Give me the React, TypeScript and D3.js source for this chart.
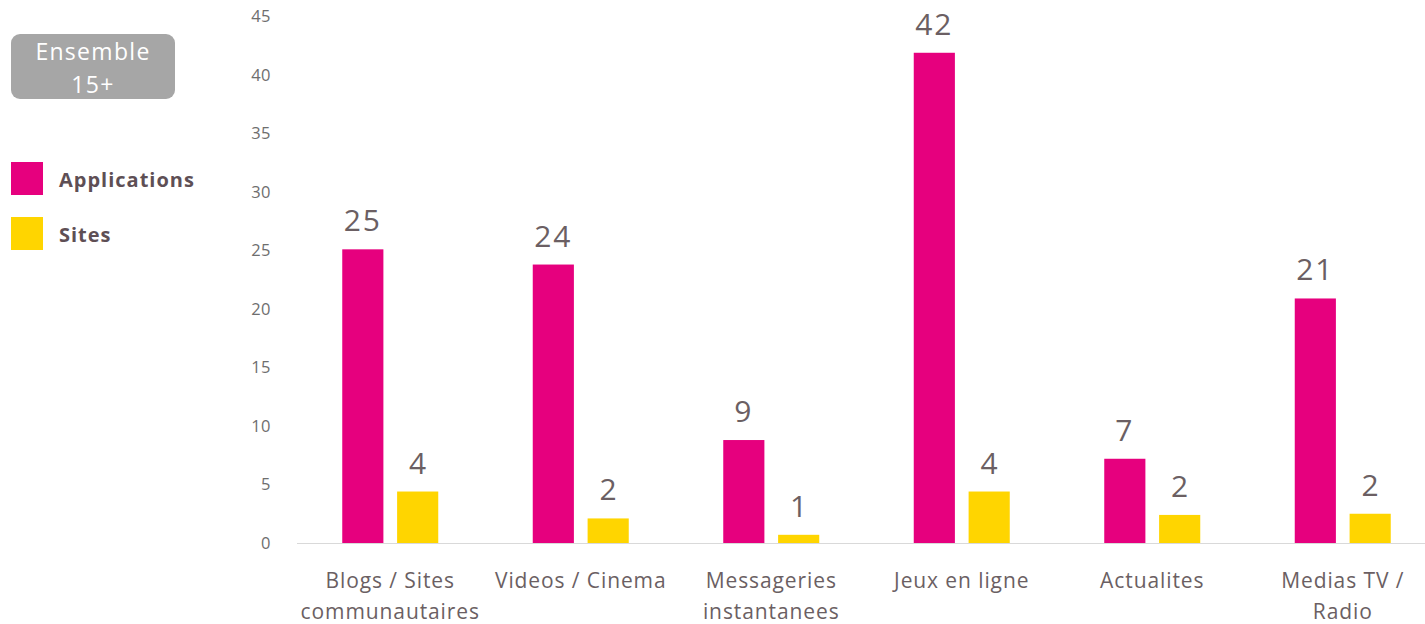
import React from "react";
import * as d3 from "d3";

const categories = [
  ["Blogs / Sites", "communautaires"],
  ["Videos / Cinema"],
  ["Messageries", "instantanees"],
  ["Jeux en ligne"],
  ["Actualites"],
  ["Medias TV /", "Radio"],
];
const applications = [25.1, 23.8, 8.8, 41.9, 7.2, 20.9];
const sites = [4.4, 2.1, 0.7, 4.4, 2.4, 2.5];
const appLabels = ["25", "24", "9", "42", "7", "21"];
const siteLabels = ["4", "2", "1", "4", "2", "2"];
const yTicks = [0, 5, 10, 15, 20, 25, 30, 35, 40, 45];

const MAGENTA = "#E6007E";
const YELLOW = "#FFD500";
const TEXT = "#6b5f63";
const FONT = "'Open Sans', sans-serif";

export default function App() {
  const W = 1425, H = 624;
  const y = d3.scaleLinear().domain([0, 45]).range([543, 16.5]);
  const x = d3.scaleBand<number>().domain(d3.range(categories.length)).range([295, 1438]).padding(0);
  const inner = d3.scaleBand<string>().domain(["app", "site"]).range([-48, 48]).paddingInner(0.25).paddingOuter(0);
  const bw = inner.bandwidth();
  return (
    <svg width={W} height={H} style={{ position: "absolute", left: 0, top: 0 }} fontFamily={FONT}>
      <rect x={0} y={0} width={W} height={H} fill="#fff" />
      {/* legend badge */}
      <rect x={11} y={34} width={164} height={65} rx={9} fill="#a6a6a6" />
      <text x={93} y={60} textAnchor="middle" fill="#fff" fontSize={23} letterSpacing={1.3}>Ensemble</text>
      <text x={93} y={93} textAnchor="middle" fill="#fff" fontSize={23} letterSpacing={1.3}>15+</text>
      <rect x={11} y={162} width={32} height={33} fill={MAGENTA} />
      <text x={59} y={187} fill="#5e4f55" fontSize={20} fontWeight="bold" letterSpacing={1}>Applications</text>
      <rect x={11} y={217} width={32} height={33} fill={YELLOW} />
      <text x={59} y={242} fill="#5e4f55" fontSize={20} fontWeight="bold" letterSpacing={1}>Sites</text>

      {/* y axis labels */}
      {yTicks.map((t) => (
        <text key={t} x={271} y={y(t)} dy="0.35em" textAnchor="end" fill="#6e6e6e" fontSize={16.5} letterSpacing={0.5}>{t}</text>
      ))}
      {/* baseline */}
      <line x1={297} x2={W} y1={y(0) + 0.5} y2={y(0) + 0.5} stroke="#d9d9d9" strokeWidth={1} />

      {categories.map((c, i) => {
        const cx = (x(i) as number) + x.bandwidth() / 2;
        const ax = cx + (inner("app") as number);
        const sx = cx + (inner("site") as number);
        return (
          <g key={i}>
            <rect x={ax} y={y(applications[i])} width={bw} height={y(0) - y(applications[i])} fill={MAGENTA} />
            <rect x={sx} y={y(sites[i])} width={bw} height={y(0) - y(sites[i])} fill={YELLOW} />
            <text x={ax + bw / 2} y={y(applications[i]) - 18} textAnchor="middle" fill={TEXT} fontSize={30} letterSpacing={2}>{appLabels[i]}</text>
            <text x={sx + bw / 2} y={y(sites[i]) - 18} textAnchor="middle" fill={TEXT} fontSize={30}>{siteLabels[i]}</text>
            {c.map((line, k) => (
              <text key={k} x={cx} y={588 + k * 31} textAnchor="middle" fill={TEXT} fontSize={21} letterSpacing={0.9}>{line}</text>
            ))}
          </g>
        );
      })}
    </svg>
  );
}
